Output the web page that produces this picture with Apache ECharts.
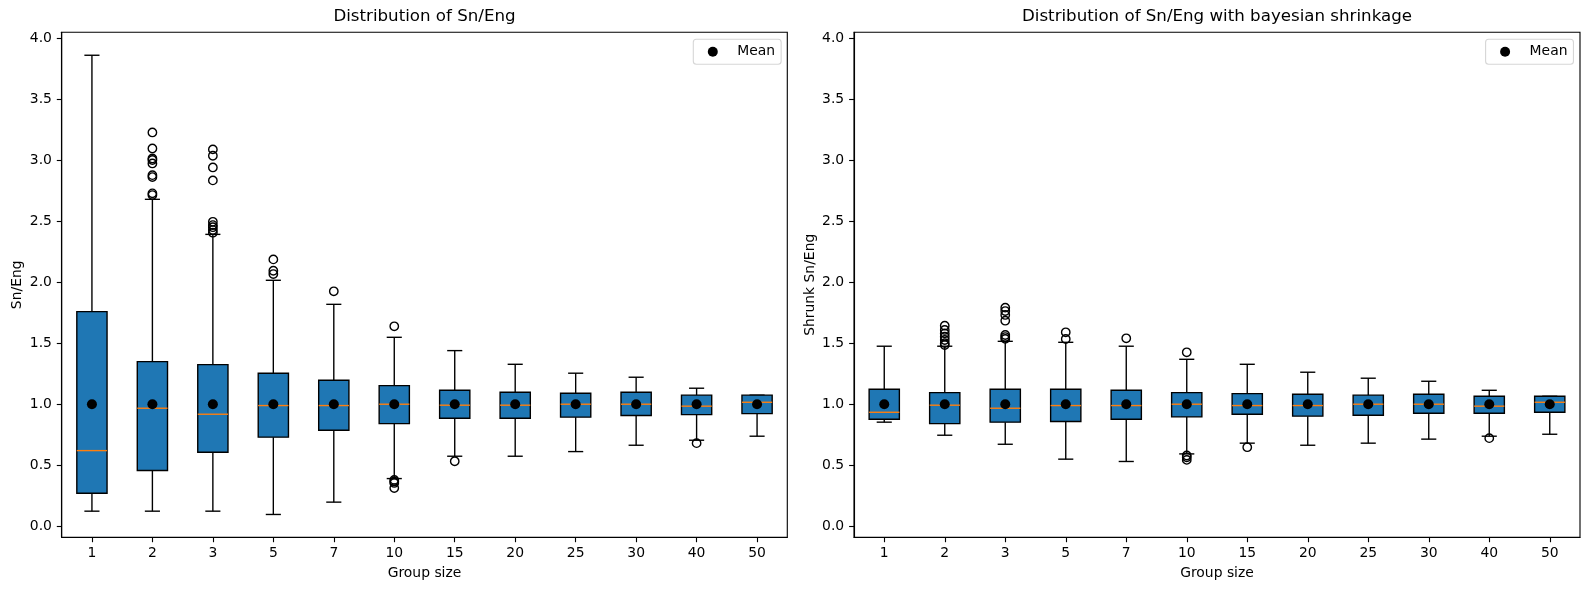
<!DOCTYPE html>
<html>
<head>
<meta charset="utf-8">
<script src="https://cdn.jsdelivr.net/npm/echarts@6/dist/echarts.min.js"></script>
<style>
html,body{margin:0;padding:0;background:#fff;}
#chart{width:1589px;height:590px;}
</style>
</head>
<body>
<div id="chart"></div>
<script>
// ---- data ----
const categories = ['1','2','3','5','7','10','15','20','25','30','40','50'];
const yTicks = [0, 0.5, 1.0, 1.5, 2.0, 2.5, 3.0, 3.5, 4.0];

// Raw Sn/Eng
const rawLow    = [0.124,0.124,0.124,0.097,0.198,0.391,0.574,0.574,0.612,0.664,0.705,0.738];
const rawQ1     = [0.271,0.457,0.607,0.730,0.787,0.841,0.885,0.885,0.894,0.907,0.915,0.923];
const rawMedian = [0.620,0.967,0.918,0.989,0.989,1.000,0.992,0.992,1.000,1.000,0.984,1.016];
const rawQ3     = [1.758,1.349,1.324,1.254,1.196,1.152,1.114,1.098,1.090,1.098,1.074,1.074];
const rawHigh   = [3.858,2.678,2.391,2.015,1.818,1.548,1.439,1.327,1.254,1.221,1.131,1.074];
const rawMean   = [1,1,1,1,1,1,1,1,1,1,1,1];
const rawOutliers = [
  [],
  [3.226,3.095,3.013,3.000,2.972,2.876,2.860,2.727,2.713],
  [3.087,3.035,2.939,2.833,2.494,2.467,2.450,2.426,2.405],
  [2.186,2.093,2.066],
  [1.925],
  [1.638,0.380,0.367,0.355,0.313],
  [0.533],
  [],
  [],
  [],
  [0.681],
  []
];

// Shrunk Sn/Eng
const shrLow    = [0.853,0.746,0.672,0.550,0.531,0.593,0.681,0.664,0.681,0.714,0.738,0.754];
const shrQ1     = [0.877,0.841,0.853,0.858,0.877,0.896,0.918,0.902,0.910,0.926,0.926,0.934];
const shrMedian = [0.934,0.992,0.967,0.989,0.989,1.000,0.989,0.989,1.000,1.000,0.984,1.016];
const shrQ3     = [1.123,1.095,1.123,1.123,1.114,1.095,1.087,1.082,1.074,1.082,1.065,1.065];
const shrHigh   = [1.475,1.475,1.515,1.507,1.475,1.368,1.327,1.262,1.213,1.188,1.114,1.065];
const shrMean   = [1,1,1,1,1,1,1,1,1,1,1,1];
const shrOutliers = [
  [],
  [1.643,1.608,1.580,1.553,1.526,1.500,1.485],
  [1.791,1.763,1.731,1.684,1.567,1.550,1.535],
  [1.589,1.534],
  [1.540],
  [1.425,0.580,0.565,0.544],
  [0.648],
  [],
  [],
  [],
  [0.722],
  []
];

// ---- build ----
const FONT = 'DejaVu Sans';
const LW = 1.39;
const AX = 1.11;

function boxData(lo, q1, med, q3, hi) {
  return categories.map((c, i) => [i, lo[i], q1[i], med[i], q3[i], hi[i]]);
}
function outlierData(out) {
  const arr = [];
  out.forEach((vals, i) => vals.forEach(v => arr.push([i, v])));
  return arr;
}
function meanData(m) { return m.map((v, i) => [i, v]); }

function renderBox(params, api) {
  const idx = api.value(0);
  const lo = api.value(1), q1 = api.value(2), med = api.value(3), q3 = api.value(4), hi = api.value(5);
  const band = api.size([1, 0])[0];
  const bw = band * 0.5;
  const cw = band * 0.25;
  const cx = api.coord([idx, med])[0];
  const y = v => api.coord([idx, v])[1];
  const ls = {stroke: '#000', lineWidth: LW};
  const children = [
    {type: 'line', shape: {x1: cx, y1: y(q1), x2: cx, y2: y(lo)}, style: ls},
    {type: 'line', shape: {x1: cx, y1: y(q3), x2: cx, y2: y(hi)}, style: ls},
    {type: 'line', shape: {x1: cx - cw/2, y1: y(lo), x2: cx + cw/2, y2: y(lo)}, style: ls},
    {type: 'line', shape: {x1: cx - cw/2, y1: y(hi), x2: cx + cw/2, y2: y(hi)}, style: ls},
    {type: 'rect', shape: {x: cx - bw/2, y: y(q3), width: bw, height: y(q1) - y(q3)},
      style: {fill: '#1f77b4', stroke: '#000', lineWidth: LW}},
    {type: 'line', shape: {x1: cx - bw/2, y1: y(med), x2: cx + bw/2, y2: y(med)},
      style: {stroke: '#ff7f0e', lineWidth: LW}}
  ];
  return {type: 'group', children};
}

function xAxis(gi) {
  return {
    type: 'category', gridIndex: gi, data: categories, boundaryGap: true,
    name: 'Group size', nameLocation: 'middle', nameGap: 29,
    nameTextStyle: {fontFamily: FONT, fontSize: 13.9, color: '#000'},
    axisLine: {show: true, onZero: false, lineStyle: {color: '#000', width: AX}},
    axisTick: {show: true, alignWithLabel: true, length: 4.9, lineStyle: {color: '#000', width: AX}},
    axisLabel: {interval: 0, margin: 9, fontFamily: FONT, fontSize: 13.9, color: '#000'},
    splitLine: {show: false}
  };
}
function yAxis(gi, name) {
  return {
    type: 'value', gridIndex: gi, min: -0.09, max: 4.046,
    name: name, nameLocation: 'middle', nameGap: 37,
    nameTextStyle: {fontFamily: FONT, fontSize: 13.9, color: '#000'},
    axisLine: {show: true, onZero: false, lineStyle: {color: '#000', width: AX}},
    axisTick: {show: true, length: 4.9, customValues: yTicks, lineStyle: {color: '#000', width: AX}},
    axisLabel: {margin: 9.8, customValues: yTicks, fontFamily: FONT, fontSize: 13.9, color: '#000',
      formatter: v => Number(v).toFixed(1)},
    splitLine: {show: false}
  };
}
function legend(left) {
  return {
    data: ['Mean'], left: left, top: 39.3, orient: 'vertical',
    icon: 'circle', itemWidth: 10, itemHeight: 10,
    itemStyle: {color: '#000', opacity: 1},
    padding: [5.5, 6, 5.5, 14.5],
    backgroundColor: '#fff', borderColor: '#d6d6d6', borderWidth: 1.1, borderRadius: 3,
    textStyle: {fontFamily: FONT, fontSize: 13.9, color: '#000', lineHeight: 14, padding: [0, 0, 0, 14.5]},
    selectedMode: false
  };
}

const option = {
  backgroundColor: '#fff',
  animation: false,
  title: [
    {text: 'Distribution of Sn/Eng', left: 424.5, top: 8, textAlign: 'center', padding: 0,
      textStyle: {fontFamily: FONT, fontSize: 16.67, fontWeight: 'normal', color: '#000'}},
    {text: 'Distribution of Sn/Eng with bayesian shrinkage', left: 1217, top: 8, textAlign: 'center', padding: 0,
      textStyle: {fontFamily: FONT, fontSize: 16.67, fontWeight: 'normal', color: '#000'}}
  ],
  legend: [legend(693.3), legend(1485.6)],
  grid: [
    {left: 61.7, right: 801.7, top: 32.3, bottom: 52.7, show: true, borderColor: '#000', borderWidth: AX, backgroundColor: 'transparent'},
    {left: 854, right: 9, top: 32.3, bottom: 52.7, show: true, borderColor: '#000', borderWidth: AX, backgroundColor: 'transparent'}
  ],
  xAxis: [xAxis(0), xAxis(1)],
  yAxis: [yAxis(0, 'Sn/Eng'), yAxis(1, 'Shrunk Sn/Eng')],
  series: [
    {type: 'custom', name: 'box1', xAxisIndex: 0, yAxisIndex: 0, renderItem: renderBox,
      encode: {x: 0, y: [1,2,3,4,5]}, data: boxData(rawLow, rawQ1, rawMedian, rawQ3, rawHigh), z: 2},
    {type: 'scatter', name: 'fliers1', xAxisIndex: 0, yAxisIndex: 0, symbol: 'circle', symbolSize: 8.4,
      itemStyle: {color: 'rgba(0,0,0,0)', borderColor: '#000', borderWidth: LW, opacity: 1},
      data: outlierData(rawOutliers), z: 3},
    {type: 'scatter', name: 'Mean', xAxisIndex: 0, yAxisIndex: 0, symbol: 'circle', symbolSize: 10,
      itemStyle: {color: '#000', opacity: 1}, data: meanData(rawMean), z: 4},
    {type: 'custom', name: 'box2', xAxisIndex: 1, yAxisIndex: 1, renderItem: renderBox,
      encode: {x: 0, y: [1,2,3,4,5]}, data: boxData(shrLow, shrQ1, shrMedian, shrQ3, shrHigh), z: 2},
    {type: 'scatter', name: 'fliers2', xAxisIndex: 1, yAxisIndex: 1, symbol: 'circle', symbolSize: 8.4,
      itemStyle: {color: 'rgba(0,0,0,0)', borderColor: '#000', borderWidth: LW, opacity: 1},
      data: outlierData(shrOutliers), z: 3},
    {type: 'scatter', name: 'Mean', xAxisIndex: 1, yAxisIndex: 1, symbol: 'circle', symbolSize: 10,
      itemStyle: {color: '#000', opacity: 1}, data: meanData(shrMean), z: 4}
  ]
};

const chart = echarts.init(document.getElementById('chart'), null, {renderer: 'canvas'});
chart.setOption(option);
</script>
</body>
</html>
